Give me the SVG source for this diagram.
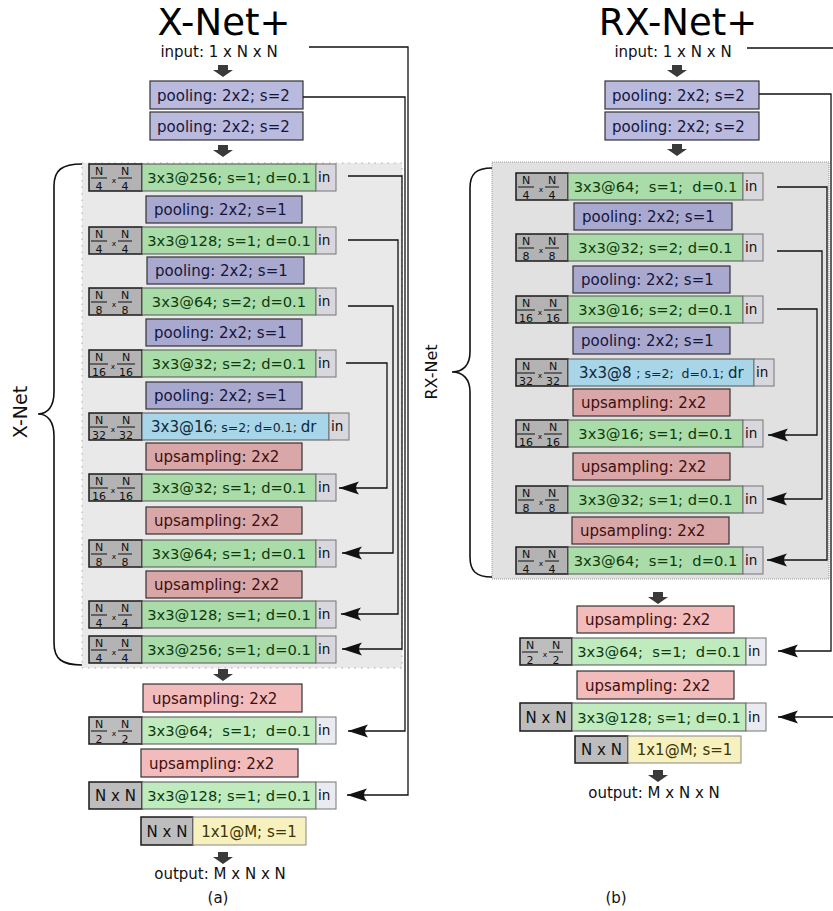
<svg xmlns="http://www.w3.org/2000/svg" width="833" height="911" viewBox="0 0 833 911">
<style>
text{font-family:"DejaVu Sans","Liberation Sans",sans-serif;white-space:pre}
.title{font-size:37px;fill:#000;text-anchor:middle}
.io{font-size:15px;fill:#111;text-anchor:middle}
.cap{font-size:15px;fill:#111;text-anchor:middle}
.brl{font-size:19px;fill:#111;text-anchor:middle}
.pt{fill:#babade;stroke:#333;stroke-width:1.2}
.pi{fill:#a9a9cf;stroke:#333;stroke-width:1.2}
.ui{fill:#d9a7a7;stroke:#333;stroke-width:1.2}
.uo{fill:#f2bcbc;stroke:#333;stroke-width:1.2}
.gi{fill:#a9dca9;stroke:#555;stroke-width:1}
.go{fill:#bfebbf;stroke:#555;stroke-width:1}
.bl{fill:#a8d5e8;stroke:#555;stroke-width:1}
.ye{fill:#f7f0bf;stroke:#888;stroke-width:1}
.sz{fill:#b3b3b3;stroke:#1a1a1a;stroke-width:1.5}
.szo{fill:#bdbdbd;stroke:#1a1a1a;stroke-width:1.5}
.ini{fill:#d7d7dd;stroke:#777;stroke-width:1}
.ino{fill:#eaeaf1;stroke:#777;stroke-width:1}
.ptx{font-size:15px;fill:#15153a}
.gtx{font-size:14.7px;fill:#0c3a0c;text-anchor:middle}
.utx{font-size:15px;fill:#3d0f0f}
.btx{font-size:15px;fill:#0c2a3a}
.sm{font-size:12.5px}
.ytx{font-size:15px;fill:#3d3600;text-anchor:middle}
.ntx{font-size:15px;fill:#111;text-anchor:middle}
.intx{font-size:13.5px;fill:#111}
.fr text{font-size:11px;fill:#111;text-anchor:middle}
.fr line{stroke:#111;stroke-width:1}
.fr text.fx{font-size:7.5px}
.con{fill:none;stroke:#111;stroke-width:1.3}
.brace{fill:none;stroke:#111;stroke-width:1.6}
.blk{fill:#3a3a3a}
</style>
<defs>
<marker id="ah" markerUnits="userSpaceOnUse" markerWidth="22" markerHeight="16" viewBox="0 -8 22 16" refX="20" refY="0" orient="auto">
<path d="M20,0 L0,-6.5 Q6,0 0,6.5 Z" fill="#111"/>
</marker>
<path id="darrow" class="blk" d="M-5,0 H5 V5 H10 L0,12 L-10,5 H-5 Z"/>
</defs>

<!-- backgrounds and braces -->
<rect x="82" y="163" width="320" height="505" fill="#e9e9e9" stroke="#aaa" stroke-width="1" stroke-dasharray="1.5,5"/>
<rect x="492" y="162" width="337" height="417" fill="#e1e1e1" stroke="#999" stroke-width="1" stroke-dasharray="1,1"/>
<path class="brace" d="M82,164 C62,164 54,170 54,186 V392 C54,406 48,414 38,414 C48,414 54,422 54,436 V643 C54,659 62,665 82,665"/>
<path class="brace" d="M492,168 C476,168 470,174 470,188 V352 C470,365 463,372 452,372 C463,372 470,379 470,392 V557 C470,571 476,577 492,577"/>
<text class="brl" transform="translate(27,412) rotate(-90)">X-Net</text>
<text class="brl" style="font-size:16px" transform="translate(437,372) rotate(-90)">RX-Net</text>

<!-- titles / io -->
<text class="title" x="224" y="35">X-Net+</text>
<text class="title" x="678" y="35">RX-Net+</text>
<text class="io" x="219" y="57">input: 1 x N x N</text>
<text class="io" x="673" y="57">input: 1 x N x N</text>
<text class="io" x="220" y="879">output: M x N x N</text>
<text class="io" x="654" y="798">output: M x N x N</text>
<text class="cap" x="218" y="903">(a)</text>
<text class="cap" x="616" y="903">(b)</text>
<use href="#darrow" x="223" y="65"/>
<use href="#darrow" x="223" y="145"/>
<use href="#darrow" x="223" y="669"/>
<use href="#darrow" x="223" y="852"/>
<use href="#darrow" x="677" y="65"/>
<use href="#darrow" x="677" y="144"/>
<use href="#darrow" x="658" y="592"/>
<use href="#darrow" x="658" y="770"/>

<!-- ===== Left panel (a) ===== -->
<g id="a-pool0"><rect class="pt" x="150" y="81" width="153" height="28"/><text class="ptx" x="157" y="101">pooling: 2x2; s=2</text></g>
<g id="a-pool00"><rect class="pt" x="150" y="112" width="153" height="28"/><text class="ptx" x="157" y="132">pooling: 2x2; s=2</text></g>

<g id="a-r1" transform="translate(89,164)">
<rect class="sz" width="53" height="27"/>
<g class="fr"><text x="10" y="10.5">N</text><line x1="2" y1="14" x2="18" y2="14"/><text x="10" y="25.5">4</text><text class="fx" x="25" y="19">x</text><text x="36" y="10.5">N</text><line x1="29" y1="14" x2="43" y2="14"/><text x="36" y="25.5">4</text></g>
<rect class="gi" x="53" width="174" height="27"/><text class="gtx" x="140" y="19">3x3@256; s=1; d=0.1</text>
<rect class="ini" x="227" width="20" height="27"/><text class="intx" x="229" y="18">in</text>
</g>
<g id="a-p1"><rect class="pi" x="146" y="196" width="156" height="27"/><text class="ptx" x="154" y="215">pooling: 2x2; s=1</text></g>
<g id="a-r2" transform="translate(89,227)">
<rect class="sz" width="53" height="27"/>
<g class="fr"><text x="10" y="10.5">N</text><line x1="2" y1="14" x2="18" y2="14"/><text x="10" y="25.5">4</text><text class="fx" x="25" y="19">x</text><text x="36" y="10.5">N</text><line x1="29" y1="14" x2="43" y2="14"/><text x="36" y="25.5">4</text></g>
<rect class="gi" x="53" width="174" height="27"/><text class="gtx" x="140" y="19">3x3@128; s=1; d=0.1</text>
<rect class="ini" x="227" width="20" height="27"/><text class="intx" x="229" y="18">in</text>
</g>
<g id="a-p2"><rect class="pi" x="147" y="257" width="157" height="27"/><text class="ptx" x="155" y="276">pooling: 2x2; s=1</text></g>
<g id="a-r3" transform="translate(89,288)">
<rect class="sz" width="53" height="27"/>
<g class="fr"><text x="10" y="10.5">N</text><line x1="2" y1="14" x2="18" y2="14"/><text x="10" y="25.5">8</text><text class="fx" x="25" y="19">x</text><text x="36" y="10.5">N</text><line x1="29" y1="14" x2="43" y2="14"/><text x="36" y="25.5">8</text></g>
<rect class="gi" x="53" width="174" height="27"/><text class="gtx" x="140" y="19">3x3@64; s=2; d=0.1</text>
<rect class="ini" x="227" width="20" height="27"/><text class="intx" x="229" y="18">in</text>
</g>
<g id="a-p3"><rect class="pi" x="146" y="319" width="156" height="27"/><text class="ptx" x="154" y="338">pooling: 2x2; s=1</text></g>
<g id="a-r4" transform="translate(89,350)">
<rect class="sz" width="53" height="27"/>
<g class="fr"><text x="10" y="10.5">N</text><line x1="1" y1="14" x2="19" y2="14"/><text x="10" y="25.5">16</text><text class="fx" x="24" y="19">x</text><text x="37" y="10.5">N</text><line x1="28" y1="14" x2="46" y2="14"/><text x="37" y="25.5">16</text></g>
<rect class="gi" x="53" width="174" height="27"/><text class="gtx" x="140" y="19">3x3@32; s=2; d=0.1</text>
<rect class="ini" x="227" width="20" height="27"/><text class="intx" x="229" y="18">in</text>
</g>
<g id="a-p4"><rect class="pi" x="146" y="382" width="156" height="27"/><text class="ptx" x="154" y="401">pooling: 2x2; s=1</text></g>
<g id="a-r5" transform="translate(89,413)">
<rect class="sz" width="53" height="27"/>
<g class="fr"><text x="10" y="10.5">N</text><line x1="1" y1="14" x2="19" y2="14"/><text x="10" y="25.5">32</text><text class="fx" x="24" y="19">x</text><text x="37" y="10.5">N</text><line x1="28" y1="14" x2="46" y2="14"/><text x="37" y="25.5">32</text></g>
<rect class="bl" x="53" width="187" height="27"/><text class="btx" x="62" y="19">3x3@16<tspan class="sm">; s=2; d=0.1; </tspan>dr</text>
<rect class="ini" x="240" width="20" height="27"/><text class="intx" x="242" y="18">in</text>
</g>
<g id="a-u1"><rect class="ui" x="146" y="443" width="156" height="27"/><text class="utx" x="154" y="462">upsampling: 2x2</text></g>
<g id="a-r6" transform="translate(89,474)">
<rect class="sz" width="53" height="27"/>
<g class="fr"><text x="10" y="10.5">N</text><line x1="1" y1="14" x2="19" y2="14"/><text x="10" y="25.5">16</text><text class="fx" x="24" y="19">x</text><text x="37" y="10.5">N</text><line x1="28" y1="14" x2="46" y2="14"/><text x="37" y="25.5">16</text></g>
<rect class="gi" x="53" width="174" height="27"/><text class="gtx" x="140" y="19">3x3@32; s=1; d=0.1</text>
<rect class="ini" x="227" width="20" height="27"/><text class="intx" x="229" y="18">in</text>
</g>
<g id="a-u2"><rect class="ui" x="146" y="507" width="156" height="27"/><text class="utx" x="154" y="526">upsampling: 2x2</text></g>
<g id="a-r7" transform="translate(89,540)">
<rect class="sz" width="53" height="27"/>
<g class="fr"><text x="10" y="10.5">N</text><line x1="2" y1="14" x2="18" y2="14"/><text x="10" y="25.5">8</text><text class="fx" x="25" y="19">x</text><text x="36" y="10.5">N</text><line x1="29" y1="14" x2="43" y2="14"/><text x="36" y="25.5">8</text></g>
<rect class="gi" x="53" width="174" height="27"/><text class="gtx" x="140" y="19">3x3@64; s=1; d=0.1</text>
<rect class="ini" x="227" width="20" height="27"/><text class="intx" x="229" y="18">in</text>
</g>
<g id="a-u3"><rect class="ui" x="146" y="571" width="156" height="27"/><text class="utx" x="154" y="590">upsampling: 2x2</text></g>
<g id="a-r8" transform="translate(89,601)">
<rect class="sz" width="53" height="27"/>
<g class="fr"><text x="10" y="10.5">N</text><line x1="2" y1="14" x2="18" y2="14"/><text x="10" y="25.5">4</text><text class="fx" x="25" y="19">x</text><text x="36" y="10.5">N</text><line x1="29" y1="14" x2="43" y2="14"/><text x="36" y="25.5">4</text></g>
<rect class="gi" x="53" width="174" height="27"/><text class="gtx" x="140" y="19">3x3@128; s=1; d=0.1</text>
<rect class="ini" x="227" width="20" height="27"/><text class="intx" x="229" y="18">in</text>
</g>
<g id="a-r9" transform="translate(89,636)">
<rect class="sz" width="53" height="27"/>
<g class="fr"><text x="10" y="10.5">N</text><line x1="2" y1="14" x2="18" y2="14"/><text x="10" y="25.5">4</text><text class="fx" x="25" y="19">x</text><text x="36" y="10.5">N</text><line x1="29" y1="14" x2="43" y2="14"/><text x="36" y="25.5">4</text></g>
<rect class="gi" x="53" width="174" height="27"/><text class="gtx" x="140" y="19">3x3@256; s=1; d=0.1</text>
<rect class="ini" x="227" width="20" height="27"/><text class="intx" x="229" y="18">in</text>
</g>
<g id="a-u4"><rect class="uo" x="143" y="684" width="159" height="28"/><text class="utx" x="152" y="704">upsampling: 2x2</text></g>
<g id="a-r10" transform="translate(89,717)">
<rect class="szo" width="53" height="27"/>
<g class="fr"><text x="10" y="10.5">N</text><line x1="2" y1="14" x2="18" y2="14"/><text x="10" y="25.5">2</text><text class="fx" x="25" y="19">x</text><text x="36" y="10.5">N</text><line x1="29" y1="14" x2="43" y2="14"/><text x="36" y="25.5">2</text></g>
<rect class="go" x="53" width="174" height="27"/><text class="gtx" x="140" y="19">3x3@64;  s=1;  d=0.1</text>
<rect class="ino" x="227" width="20" height="27"/><text class="intx" x="229" y="18">in</text>
</g>
<g id="a-u5"><rect class="uo" x="141" y="749" width="157" height="28"/><text class="utx" x="149" y="769">upsampling: 2x2</text></g>
<g id="a-r11" transform="translate(89,782)">
<rect class="szo" width="53" height="27"/><text class="ntx" x="26.5" y="19">N x N</text>
<rect class="go" x="53" width="174" height="27"/><text class="gtx" x="140" y="19">3x3@128; s=1; d=0.1</text>
<rect class="ino" x="227" width="20" height="27"/><text class="intx" x="229" y="18">in</text>
</g>
<g id="a-r12" transform="translate(141,817)">
<rect class="szo" width="52" height="28"/><text class="ntx" x="26" y="20">N x N</text>
<rect class="ye" x="52" width="113" height="28"/><text class="ytx" x="108" y="20">1x1@M; s=1</text>
</g>

<!-- ===== Right panel (b) ===== -->
<g id="b-pool0"><rect class="pt" x="605" y="81" width="154" height="28"/><text class="ptx" x="612" y="101">pooling: 2x2; s=2</text></g>
<g id="b-pool00"><rect class="pt" x="605" y="112" width="154" height="28"/><text class="ptx" x="612" y="132">pooling: 2x2; s=2</text></g>

<g id="b-r1" transform="translate(516,173)">
<rect class="sz" width="52" height="27"/>
<g class="fr"><text x="10" y="10.5">N</text><line x1="2" y1="14" x2="18" y2="14"/><text x="10" y="25.5">4</text><text class="fx" x="25" y="19">x</text><text x="36" y="10.5">N</text><line x1="29" y1="14" x2="43" y2="14"/><text x="36" y="25.5">4</text></g>
<rect class="gi" x="52" width="175" height="27"/><text class="gtx" x="139.5" y="19">3x3@64;  s=1;  d=0.1</text>
<rect class="ini" x="227" width="20" height="27"/><text class="intx" x="229" y="18">in</text>
</g>
<g id="b-p1"><rect class="pi" x="574" y="203" width="158" height="27"/><text class="ptx" x="582" y="222">pooling: 2x2; s=1</text></g>
<g id="b-r2" transform="translate(516,234)">
<rect class="sz" width="52" height="27"/>
<g class="fr"><text x="10" y="10.5">N</text><line x1="2" y1="14" x2="18" y2="14"/><text x="10" y="25.5">8</text><text class="fx" x="25" y="19">x</text><text x="36" y="10.5">N</text><line x1="29" y1="14" x2="43" y2="14"/><text x="36" y="25.5">8</text></g>
<rect class="gi" x="52" width="175" height="27"/><text class="gtx" x="139.5" y="19">3x3@32; s=2; d=0.1</text>
<rect class="ini" x="227" width="20" height="27"/><text class="intx" x="229" y="18">in</text>
</g>
<g id="b-p2"><rect class="pi" x="573" y="266" width="157" height="27"/><text class="ptx" x="581" y="285">pooling: 2x2; s=1</text></g>
<g id="b-r3" transform="translate(516,296)">
<rect class="sz" width="52" height="27"/>
<g class="fr"><text x="10" y="10.5">N</text><line x1="1" y1="14" x2="19" y2="14"/><text x="10" y="25.5">16</text><text class="fx" x="24" y="19">x</text><text x="37" y="10.5">N</text><line x1="28" y1="14" x2="46" y2="14"/><text x="37" y="25.5">16</text></g>
<rect class="gi" x="52" width="175" height="27"/><text class="gtx" x="139.5" y="19">3x3@16; s=2; d=0.1</text>
<rect class="ini" x="227" width="20" height="27"/><text class="intx" x="229" y="18">in</text>
</g>
<g id="b-p3"><rect class="pi" x="573" y="327" width="157" height="27"/><text class="ptx" x="581" y="346">pooling: 2x2; s=1</text></g>
<g id="b-r4" transform="translate(516,359)">
<rect class="sz" width="52" height="27"/>
<g class="fr"><text x="10" y="10.5">N</text><line x1="1" y1="14" x2="19" y2="14"/><text x="10" y="25.5">32</text><text class="fx" x="24" y="19">x</text><text x="37" y="10.5">N</text><line x1="28" y1="14" x2="46" y2="14"/><text x="37" y="25.5">32</text></g>
<rect class="bl" x="52" width="186" height="27"/><text class="btx" x="63" y="19">3x3@8 <tspan class="sm">; s=2;  d=0.1; </tspan>dr</text>
<rect class="ini" x="238" width="20" height="27"/><text class="intx" x="240" y="18">in</text>
</g>
<g id="b-u1"><rect class="ui" x="573" y="389" width="157" height="27"/><text class="utx" x="581" y="408">upsampling: 2x2</text></g>
<g id="b-r5" transform="translate(516,420)">
<rect class="sz" width="52" height="27"/>
<g class="fr"><text x="10" y="10.5">N</text><line x1="1" y1="14" x2="19" y2="14"/><text x="10" y="25.5">16</text><text class="fx" x="24" y="19">x</text><text x="37" y="10.5">N</text><line x1="28" y1="14" x2="46" y2="14"/><text x="37" y="25.5">16</text></g>
<rect class="gi" x="52" width="175" height="27"/><text class="gtx" x="139.5" y="19">3x3@16; s=1; d=0.1</text>
<rect class="ini" x="227" width="20" height="27"/><text class="intx" x="229" y="18">in</text>
</g>
<g id="b-u2"><rect class="ui" x="573" y="453" width="157" height="27"/><text class="utx" x="581" y="472">upsampling: 2x2</text></g>
<g id="b-r6" transform="translate(516,486)">
<rect class="sz" width="52" height="27"/>
<g class="fr"><text x="10" y="10.5">N</text><line x1="2" y1="14" x2="18" y2="14"/><text x="10" y="25.5">8</text><text class="fx" x="25" y="19">x</text><text x="36" y="10.5">N</text><line x1="29" y1="14" x2="43" y2="14"/><text x="36" y="25.5">8</text></g>
<rect class="gi" x="52" width="175" height="27"/><text class="gtx" x="139.5" y="19">3x3@32; s=1; d=0.1</text>
<rect class="ini" x="227" width="20" height="27"/><text class="intx" x="229" y="18">in</text>
</g>
<g id="b-u3"><rect class="ui" x="572" y="517" width="157" height="27"/><text class="utx" x="580" y="536">upsampling: 2x2</text></g>
<g id="b-r7" transform="translate(516,547)">
<rect class="sz" width="52" height="27"/>
<g class="fr"><text x="10" y="10.5">N</text><line x1="2" y1="14" x2="18" y2="14"/><text x="10" y="25.5">4</text><text class="fx" x="25" y="19">x</text><text x="36" y="10.5">N</text><line x1="29" y1="14" x2="43" y2="14"/><text x="36" y="25.5">4</text></g>
<rect class="gi" x="52" width="175" height="27"/><text class="gtx" x="139.5" y="19">3x3@64;  s=1;  d=0.1</text>
<rect class="ini" x="227" width="20" height="27"/><text class="intx" x="229" y="18">in</text>
</g>
<g id="b-u4"><rect class="uo" x="577" y="606" width="157" height="27"/><text class="utx" x="585" y="625">upsampling: 2x2</text></g>
<g id="b-r8" transform="translate(520,638)">
<rect class="szo" width="52" height="27"/>
<g class="fr"><text x="10" y="10.5">N</text><line x1="2" y1="14" x2="18" y2="14"/><text x="10" y="25.5">2</text><text class="fx" x="25" y="19">x</text><text x="36" y="10.5">N</text><line x1="29" y1="14" x2="43" y2="14"/><text x="36" y="25.5">2</text></g>
<rect class="go" x="52" width="174" height="27"/><text class="gtx" x="139" y="19">3x3@64;  s=1;  d=0.1</text>
<rect class="ino" x="226" width="20" height="27"/><text class="intx" x="228" y="18">in</text>
</g>
<g id="b-u5"><rect class="uo" x="577" y="671" width="157" height="28"/><text class="utx" x="585" y="691">upsampling: 2x2</text></g>
<g id="b-r9" transform="translate(520,703)">
<rect class="szo" width="52" height="28"/><text class="ntx" x="26" y="20">N x N</text>
<rect class="go" x="52" width="174" height="28"/><text class="gtx" x="139" y="20">3x3@128; s=1; d=0.1</text>
<rect class="ino" x="226" width="20" height="28"/><text class="intx" x="228" y="19">in</text>
</g>
<g id="b-r10" transform="translate(575,736)">
<rect class="szo" width="53" height="27"/><text class="ntx" x="26.5" y="19">N x N</text>
<rect class="ye" x="53" width="113" height="27"/><text class="ytx" x="109.5" y="19">1x1@M; s=1</text>
</g>

<!-- connectors -->
<g id="connectors">
<path class="con" d="M309,47 H408 V795 H347" marker-end="url(#ah)"/>
<path class="con" d="M303,97 H405 V731 H348" marker-end="url(#ah)"/>
<path class="con" d="M348,176 H402 V649 H342" marker-end="url(#ah)"/>
<path class="con" d="M348,240 H398 V614 H341" marker-end="url(#ah)"/>
<path class="con" d="M348,306 H393 V553 H342" marker-end="url(#ah)"/>
<path class="con" d="M346,363 H387 V488 H339" marker-end="url(#ah)"/>
<path class="con" d="M747,48 H845 V717 H778" marker-end="url(#ah)"/>
<path class="con" d="M759,94 H831 V651 H778" marker-end="url(#ah)"/>
<path class="con" d="M777,187 H827 V560 H767" marker-end="url(#ah)"/>
<path class="con" d="M777,251 H822 V499 H767" marker-end="url(#ah)"/>
<path class="con" d="M777,309 H817 V435 H768" marker-end="url(#ah)"/>
</g>
</svg>
